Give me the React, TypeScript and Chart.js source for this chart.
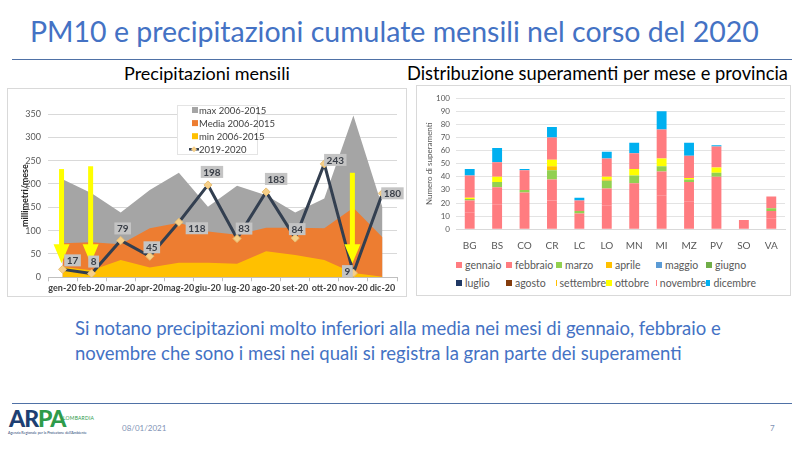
import React, { useEffect, useRef } from 'react';
import { Chart, registerables } from 'chart.js';

Chart.register(...registerables);

// ---------- Left chart: monthly precipitation (mm / month) ----------
const months = ['gen-20', 'feb-20', 'mar-20', 'apr-20', 'mag-20', 'giu-20', 'lug-20', 'ago-20', 'set-20', 'ott-20', 'nov-20', 'dic-20'];
const rainMax = [210, 180, 139, 187, 224, 151, 196, 176, 139, 169, 347, 150];
const rainMean = [73, 75, 71, 105, 117, 98, 91, 106, 106, 105, 149, 86];
const rainMin = [22, 15, 37, 21, 31, 31, 29, 56, 48, 37, 9, 1];
const rain2020 = [17, 8, 79, 45, 118, 198, 83, 183, 84, 243, 9, 180];
const rainTicks = [0, 50, 100, 150, 200, 250, 300, 350];
const rainLegend = ['max 2006-2015', 'Media 2006-2015', 'min 2006-2015', '2019-2020'];
const arrowMonths = ['gen-20', 'feb-20', 'nov-20'];
const arrowTops = [232, 238, 224];
const arrowTip = 30;

// ---------- Right chart: exceedances per month and province ----------
const provinces = ['BG', 'BS', 'CO', 'CR', 'LC', 'LO', 'MN', 'MI', 'MZ', 'PV', 'SO', 'VA'];
const gennaio = [13, 19, 17, 22, 7, 18, 20, 26, 21, 23, 4, 8];
const febbraio = [9, 13, 11, 16, 5, 13, 15, 18, 15, 17, 3, 6];
const marzo = [1, 4, 2, 7, 2, 6, 6, 4, 2, 3, 0, 2];
const aprile = [0, 0, 0, 3, 0, 1, 0, 0, 0, 0, 0, 0];
const maggio = [0, 0, 0, 0, 0, 0, 0, 0, 0, 0, 0, 0];
const giugno = [0, 0, 0, 0, 0, 0, 0, 0, 0, 0, 0, 0];
const luglio = [0, 0, 0, 0, 0, 0, 0, 0, 0, 0, 0, 0];
const agosto = [0, 0, 0, 0, 0, 0, 0, 0, 0, 0, 0, 0];
const settembre = [0, 0, 0, 0, 0, 0, 0, 0, 0, 0, 0, 0];
const ottobre = [1, 4, 0, 5, 0, 2, 5, 6, 1, 4, 0, 0];
const novembre = [17, 11, 15, 17, 8, 14, 12, 22, 17, 16, 0, 9];
const dicembre = [5, 11, 1, 8, 2, 5, 8, 14, 10, 1, 0, 0];
const countTicks = [0, 10, 20, 30, 40, 50, 60, 70, 80, 90, 100];
const monthNames = ['gennaio', 'febbraio', 'marzo', 'aprile', 'maggio', 'giugno', 'luglio', 'agosto', 'settembre', 'ottobre', 'novembre', 'dicembre'];
const monthSeries = [gennaio, febbraio, marzo, aprile, maggio, giugno, luglio, agosto, settembre, ottobre, novembre, dicembre];

// ---------- styles ----------
const FONT = 'Lato';
const BLUE = '#4472C4';
const rainColors = ['#A5A5A5', '#ED7D31', '#FFC000', '#333F50'];
const markerColor = '#F6CF88';
const monthColors = ['#FF7C80', '#FF7C80', '#92D050', '#FFC000', '#5B9BD5', '#70AD47', '#203864', '#843C0C', '#FFC000', '#FFFF00', '#FF7C80', '#00B0F0'];
const labelShift = [[10, -9], [2, -12], [2, -12], [2, -9], [18, 6], [4, -13], [7, -10], [10, -13], [2, -9], [11, -4], [-6, -2], [10, 0]];

const arrowPlugin = {
  id: 'arrows',
  afterDatasetsDraw(chart: any) {
    const { ctx, scales } = chart;
    const x = scales.x, y = scales.y;
    ctx.save();
    ctx.fillStyle = '#FFFF00';
    arrowMonths.forEach((m, i) => {
      const cx = x.getPixelForValue(months.indexOf(m)) - 1;
      const top = y.getPixelForValue(arrowTops[i]);
      const tip = y.getPixelForValue(arrowTip);
      const head = 19, hw = 8, sw = 2.5;
      ctx.fillRect(cx - sw, top, sw * 2, tip - head - top + 1);
      ctx.beginPath();
      ctx.moveTo(cx - hw, tip - head);
      ctx.lineTo(cx + hw, tip - head);
      ctx.lineTo(cx, tip);
      ctx.closePath();
      ctx.fill();
    });
    ctx.restore();
  },
};

const labelPlugin = {
  id: 'valueLabels',
  afterDatasetsDraw(chart: any) {
    const { ctx } = chart;
    const meta = chart.getDatasetMeta(0);
    ctx.save();
    ctx.font = `bold 10px ${FONT}`;
    ctx.textAlign = 'center';
    ctx.textBaseline = 'middle';
    meta.data.forEach((pt: any, i: number) => {
      const text = String(rain2020[i]);
      const w = ctx.measureText(text).width + 5;
      const h = 12;
      const cx = pt.x + labelShift[i][0];
      const cy = pt.y + labelShift[i][1];
      ctx.fillStyle = '#C4C4C4';
      ctx.fillRect(cx - w / 2, cy - h / 2, w, h);
      ctx.fillStyle = '#3A3F48';
      ctx.fillText(text, cx, cy + 0.5);
    });
    ctx.restore();
  },
};

const rainLegendPlugin = {
  id: 'rainLegend',
  afterDraw(chart: any) {
    const { ctx } = chart;
    ctx.save();
    ctx.fillStyle = '#FFFFFF';
    ctx.fillRect(169, 17, 80, 49);
    ctx.strokeStyle = '#E4E4E4';
    ctx.lineWidth = 1;
    ctx.strokeRect(169.5, 17.5, 80, 49);
    ctx.font = `9.5px ${FONT}`;
    ctx.textBaseline = 'middle';
    rainLegend.forEach((label, i) => {
      const yy = 22 + i * 13.1;
      if (i < 3) {
        ctx.fillStyle = rainColors[i];
        ctx.fillRect(184, yy - 3, 6, 6);
      } else {
        ctx.strokeStyle = rainColors[3];
        ctx.lineWidth = 2.5;
        ctx.beginPath();
        ctx.moveTo(181, yy);
        ctx.lineTo(191, yy);
        ctx.stroke();
        ctx.fillStyle = markerColor;
        ctx.beginPath();
        ctx.moveTo(186, yy - 3);
        ctx.lineTo(189, yy);
        ctx.lineTo(186, yy + 3);
        ctx.lineTo(183, yy);
        ctx.closePath();
        ctx.fill();
      }
      ctx.fillStyle = '#404040';
      ctx.fillText(label, 191, yy + 0.5);
    });
    ctx.restore();
  },
};

function leftConfig(): any {
  const area = (label: string, data: number[], color: string) => ({
    label, data, backgroundColor: color, borderColor: color, borderWidth: 0,
    pointRadius: 0, fill: 'origin', tension: 0,
  });
  return {
    type: 'line',
    data: {
      labels: months,
      datasets: [
        {
          label: rainLegend[3], data: rain2020, borderColor: rainColors[3], borderWidth: 3,
          pointStyle: 'rectRot', pointRadius: 4, pointBackgroundColor: markerColor,
          pointBorderColor: '#E9BF74', pointBorderWidth: 1, fill: false, tension: 0,
        },
        area(rainLegend[2], rainMin, rainColors[2]),
        area(rainLegend[1], rainMean, rainColors[1]),
        area(rainLegend[0], rainMax, rainColors[0]),
      ],
    },
    options: {
      animation: false,
      responsive: true,
      maintainAspectRatio: false,
      layout: { padding: { top: 26, right: 9, left: 0, bottom: 0 } },
      plugins: { legend: { display: false }, tooltip: { enabled: false } },
      scales: {
        x: {
          offset: true,
          grid: { offset: true, drawOnChartArea: false, tickLength: 4, color: '#BFBFBF' },
          border: { color: '#BFBFBF' },
          ticks: { font: { family: FONT, size: 9, weight: 'bold' }, color: '#404040', padding: 1, maxRotation: 0, autoSkip: false },
          afterFit: (s: any) => { s.height = 18.7; },
        },
        y: {
          min: 0,
          max: 350,
          afterBuildTicks: (s: any) => { s.ticks = rainTicks.map((v) => ({ value: v })); },
          ticks: { font: { family: FONT, size: 9 }, color: '#595959', padding: 7 },
          grid: { color: '#D9D9D9', drawTicks: false },
          border: { display: false },
          title: { display: true, text: 'millimetri/mese', font: { family: FONT, size: 9, weight: 'bold' }, color: '#262626', padding: { top: 12, bottom: 0 } },
          afterFit: (s: any) => { s.width = 40; },
        },
      },
    },
    plugins: [arrowPlugin, labelPlugin, rainLegendPlugin],
  };
}

function rightConfig(): any {
  return {
    type: 'bar',
    data: {
      labels: provinces,
      datasets: monthNames.map((name, i) => ({
        label: name, data: monthSeries[i], backgroundColor: monthColors[i],
        barPercentage: 0.36, categoryPercentage: 1, borderWidth: 0,
      })),
    },
    options: {
      animation: false,
      responsive: true,
      maintainAspectRatio: false,
      layout: { padding: { top: 13, right: 5, left: 0, bottom: 0 } },
      plugins: { legend: { display: false }, tooltip: { enabled: false } },
      scales: {
        x: {
          stacked: true,
          grid: { display: false },
          border: { color: '#D9D9D9' },
          ticks: { font: { family: FONT, size: 10 }, color: '#595959', padding: 2, maxRotation: 0, autoSkip: false },
          afterFit: (s: any) => { s.height = 25.7; },
        },
        y: {
          stacked: true,
          min: 0,
          max: 100,
          afterBuildTicks: (s: any) => { s.ticks = countTicks.map((v) => ({ value: v })); },
          ticks: { font: { family: FONT, size: 8 }, color: '#595959', padding: 6 },
          grid: { color: '#E3E3E3', drawTicks: false },
          border: { display: false },
          title: { display: true, text: 'Numero di superamenti', font: { family: FONT, size: 8 }, color: '#595959', padding: { top: 9, bottom: 0 } },
          afterFit: (s: any) => { s.width = 40; },
        },
      },
    },
  };
}

function ChartBox({ make, left, top, width, height }: { make: () => any; left: number; top: number; width: number; height: number }) {
  const ref = useRef<HTMLCanvasElement>(null);
  useEffect(() => {
    const chart = new Chart(ref.current as HTMLCanvasElement, make());
    return () => chart.destroy();
  }, []);
  return (
    <div style={{ position: 'absolute', left, top, width, height }}>
      <canvas ref={ref} />
    </div>
  );
}

export default function App() {
  const abs = (s: React.CSSProperties): React.CSSProperties => ({ position: 'absolute', ...s });
  return (
    <div style={{ position: 'absolute', left: 0, top: 0, width: 800, height: 450, background: '#FFFFFF', overflow: 'hidden', fontFamily: FONT }}>
      <div style={abs({ left: 30, top: 16, fontSize: 28.5, lineHeight: '30px', color: BLUE, whiteSpace: 'nowrap' })}>
        PM10 e precipitazioni cumulate mensili nel corso del 2020
      </div>
      <div style={abs({ left: 12, top: 59, width: 780, height: 0, borderTop: '1.5px solid #4F71A6' })} />

      <div style={abs({ left: 124, top: 63, fontSize: 18, lineHeight: '20px', color: '#000', whiteSpace: 'nowrap' })}>
        Precipitazioni mensili
      </div>
      <div style={abs({ left: 407, top: 63, fontSize: 18.3, lineHeight: '20px', color: '#000', whiteSpace: 'nowrap' })}>
        Distribuzione superamenti per mese e provincia
      </div>

      <div style={abs({ left: 7, top: 88, width: 398, height: 207, border: '1px solid #D9D9D9' })} />
      <ChartBox make={leftConfig} left={8} top={88} width={398} height={208} />

      <div style={abs({ left: 416, top: 85, width: 373, height: 209, border: '1px solid #D9D9D9' })} />
      <ChartBox make={rightConfig} left={416} top={85} width={374} height={170} />
      <div style={abs({ left: 456, top: 258, width: 320, display: 'grid', gridTemplateColumns: 'repeat(6, 50px)', rowGap: 4, fontSize: 10.5, lineHeight: '14px', color: '#595959' })}>
        {monthNames.map((name, i) => (
          <div key={name} style={{ display: 'flex', alignItems: 'center', whiteSpace: 'nowrap' }}>
            <span style={{ display: 'inline-block', width: 6, height: 6, background: monthColors[i], marginRight: 3 }} />
            {name}
          </div>
        ))}
      </div>

      <div style={abs({ left: 75, top: 316, fontSize: 18.5, lineHeight: '25px', color: BLUE, whiteSpace: 'nowrap' })}>
        Si notano precipitazioni molto inferiori alla media nei mesi di gennaio, febbraio e<br />
        novembre che sono i mesi nei quali si registra la gran parte dei superamenti
      </div>

      <div style={abs({ left: 12, top: 403, width: 780, height: 0, borderTop: '1.5px solid #4F71A6' })} />

      <div style={abs({ left: 9, top: 406, fontSize: 23, lineHeight: '24px', fontWeight: 900, letterSpacing: -1, whiteSpace: 'nowrap' })}>
        <span style={{ color: '#1D3F73' }}>AR</span><span style={{ color: '#2E9B4A' }}>PA</span>
      </div>
      <div style={abs({ left: 63, top: 415, fontSize: 5, color: '#2E9B4A', letterSpacing: 0.2, whiteSpace: 'nowrap' })}>LOMBARDIA</div>
      <div style={abs({ left: 8, top: 430, fontSize: 3.6, color: '#1D3F73', whiteSpace: 'nowrap' })}>Agenzia Regionale per la Protezione dell'Ambiente</div>
      <div style={abs({ left: 122, top: 423, fontSize: 8, color: '#7F93B5', whiteSpace: 'nowrap' })}>08/01/2021</div>
      <div style={abs({ left: 770, top: 423, fontSize: 8, color: '#7F93B5' })}>7</div>
    </div>
  );
}
